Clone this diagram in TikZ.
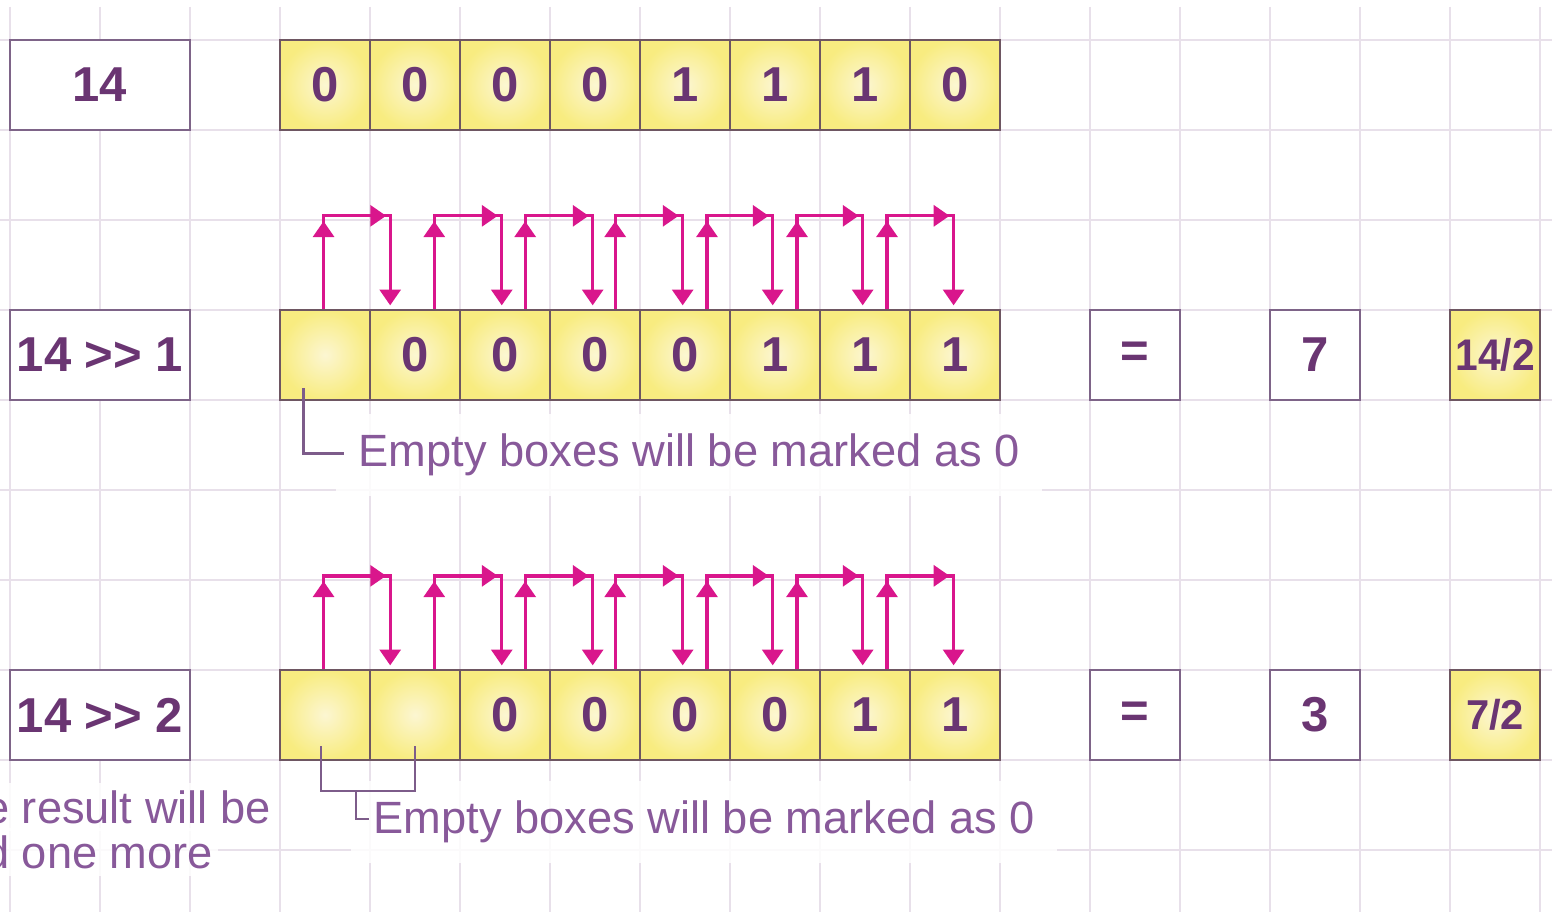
\documentclass[tikz,border=0pt]{standalone}
\usepackage{fontspec}
\setmainfont{Liberation Sans}
\usepackage{tikz}
\usetikzlibrary{arrows.meta, positioning, calc}
\definecolor{gridline}{HTML}{E8E0EA}
\definecolor{boxline}{HTML}{7E6488}
\definecolor{cellline}{HTML}{6E5662}
\definecolor{celllight}{HTML}{FCF6D2}
\definecolor{cellyellow}{HTML}{F8EC80}
\definecolor{digitpurple}{HTML}{6A3572}
\definecolor{notepurple}{HTML}{88599A}
\definecolor{notelinecol}{HTML}{7D5C8A}
\definecolor{shiftpink}{HTML}{D9168C}

\tikzset{
    gridrule/.style={draw=gridline, line width=0.5pt},
    numbox/.style={draw=boxline, line width=0.9pt, fill=white, inner sep=0pt,
        minimum width=2cm, minimum height=1cm,
        font=\fontsize{15.5}{16}\selectfont\bfseries, text=digitpurple},
    bitcell/.style={draw=cellline, line width=0.9pt, inner color=celllight, outer color=cellyellow,
        inner sep=0pt, minimum width=1cm, minimum height=1cm,
        font=\fontsize{15.5}{16}\selectfont\bfseries, text=digitpurple},
    fracbox/.style={bitcell, font=\fontsize{14}{15}\selectfont\bfseries},
    shiftline/.style={draw=shiftpink, line width=1.05pt},
    shifttip/.style={shiftline, -{Triangle[length=5pt, width=6.6pt]}},
    notetext/.style={font=\fontsize{14.3}{14.3}\selectfont, text=notepurple, fill=white,
        fill opacity=0.85, text opacity=1, inner xsep=0.25cm, inner ysep=0.22cm, outer sep=0pt},
    carrytext/.style={notetext, inner xsep=0.05cm, inner ysep=0.08cm},
    noteline/.style={draw=notelinecol, line width=0.7pt}
}

\begin{document}
\begin{tikzpicture}[x=1cm, y=-1cm]
    % Page and grid
    \useasboundingbox (-0.111,-0.444) rectangle (17.133,9.689);
    \clip (-0.111,-0.444) rectangle (17.133,9.689);
    \foreach \gx in {0,...,17}
        \draw[gridrule] (\gx,-0.37) -- (\gx,9.8);
    \foreach \gy in {0,...,9}
        \draw[gridrule] (-0.2,\gy) -- (17.2,\gy);

    % Operands
    \node[numbox] (lbl1) at (1,0.5) {14};
    \node[numbox] (lbl2) at (1,3.5) {14 >{}> 1};
    \node[numbox] (lbl3) at (1,7.5) {14 >{}> 2};

    % Bit rows
    \foreach \b [count=\i from 0] in {0,0,0,0,1,1,1,0}
        \node[bitcell] (r1c\i) at (3.5+\i,0.5) {\b};
    \foreach \b [count=\i from 0] in {{},0,0,0,0,1,1,1}
        \node[bitcell] (r2c\i) at (3.5+\i,3.5) {\b};
    \foreach \b [count=\i from 0] in {{},{},0,0,0,0,1,1}
        \node[bitcell] (r3c\i) at (3.5+\i,7.5) {\b};

    % Results
    \node[numbox, minimum width=1cm] (eq2) at (12.5,3.5) {=};
    \node[numbox, minimum width=1cm] (res2) at (14.5,3.5) {7};
    \node[fracbox] (half2) at (16.5,3.5) {\scalebox{0.92}[1]{14/2}};
    \node[numbox, minimum width=1cm] (eq3) at (12.5,7.5) {=};
    \node[numbox, minimum width=1cm] (res3) at (14.5,7.5) {3};
    \node[fracbox, font=\fontsize{13.2}{14}\selectfont\bfseries] (half3) at (16.5,7.5) {7/2};

    % Shift arrows, one bit to the right
    \foreach \row in {2,3} {
        \foreach \i/\ux/\dx in {0/0.5/0.24, 1/0.73/0.48, 2/0.74/0.49, 3/0.74/0.49, 4/0.76/0.49, 5/0.76/0.49, 6/0.76/0.5} {
            \pgfmathtruncatemacro{\j}{\i+1}
            \draw[shiftline] ($(r\row c\i.north west)+(\ux,0)$) -- ++(0,-1.03)
                -| ($(r\row c\j.north west)+(\dx,-0.15)$);
            \draw[shifttip] ($(r\row c\i.north west)+(\ux,0)$) -- ++(0,-0.97);
            \draw[shifttip] ($(r\row c\i.north west)+(\ux,-1.03)$) -- ($(r\row c\j.north west)+(\dx-0.045,-1.03)$);
            \draw[shifttip] ($(r\row c\j.north west)+(\dx,-1.03)$) -- ($(r\row c\j.north west)+(\dx,-0.035)$);
        }
    }

    % Notes
    \node[notetext, anchor=text] (note2) at ($(r2c0.south west)+(0.889,0.722)$) {Empty boxes will be marked as 0};
    \node[notetext, anchor=text] (note3) at ($(r3c0.south west)+(1.056,0.8)$) {Empty boxes will be marked as 0};
    \node[carrytext, anchor=text] (carry1) at ($(lbl3.south west)+(-0.27,0.689)$) {e result will be};
    \node[carrytext, anchor=text] (carry2) at ($(lbl3.south west)+(-0.27,1.189)$) {d one more};

    \draw[noteline] ($(r2c0.south west)+(0.278,-0.144)$) |- ($(note2.text)+(-0.167,-0.144)$);
    \draw[noteline] ($(r3c0.south)+(-0.044,-0.167)$) -- ++(0,0.5) -| ($(r3c1.south)+(0,-0.167)$);
    \draw[noteline] ($(note3.text)+(-0.056,-0.156)$) -| ($(r3c0.south)+(0.344,0.333)$);
\end{tikzpicture}
\end{document}
